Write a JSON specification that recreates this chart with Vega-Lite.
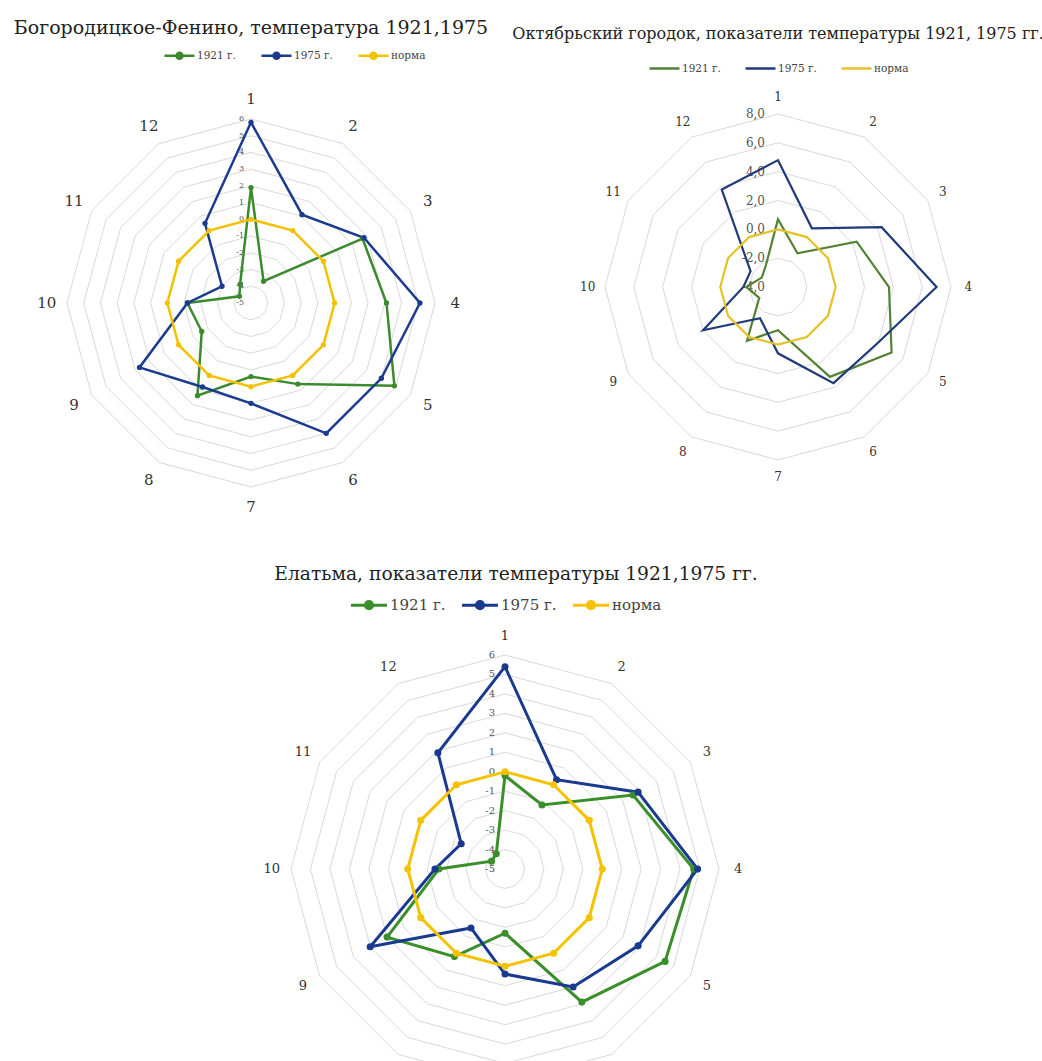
{
  "$schema": "https://vega.github.io/schema/vega-lite/v6.json",
  "padding": {"left": 13, "top": 19, "right": 0, "bottom": 0},
  "background": "white",
  "config": {
    "view": {"stroke": null},
    "text": {"font": "DejaVu Serif"},
    "title": {"font": "DejaVu Serif", "fontWeight": "normal", "color": "#222"},
    "legend": {"labelFont": "DejaVu Serif", "labelColor": "#444", "padding": 0, "labelOffset": 1}
  },
  "datasets": {
    "months": [
      {"month": 1}, {"month": 2}, {"month": 3}, {"month": 4}, {"month": 5}, {"month": 6},
      {"month": 7}, {"month": 8}, {"month": 9}, {"month": 10}, {"month": 11}, {"month": 12}
    ],
    "grid11": [
      {"level": -5, "label": "-5", "months": [1,2,3,4,5,6,7,8,9,10,11,12]},
      {"level": -4, "label": "-4", "months": [1,2,3,4,5,6,7,8,9,10,11,12]},
      {"level": -3, "label": "-3", "months": [1,2,3,4,5,6,7,8,9,10,11,12]},
      {"level": -2, "label": "-2", "months": [1,2,3,4,5,6,7,8,9,10,11,12]},
      {"level": -1, "label": "-1", "months": [1,2,3,4,5,6,7,8,9,10,11,12]},
      {"level": 0, "label": "0", "months": [1,2,3,4,5,6,7,8,9,10,11,12]},
      {"level": 1, "label": "1", "months": [1,2,3,4,5,6,7,8,9,10,11,12]},
      {"level": 2, "label": "2", "months": [1,2,3,4,5,6,7,8,9,10,11,12]},
      {"level": 3, "label": "3", "months": [1,2,3,4,5,6,7,8,9,10,11,12]},
      {"level": 4, "label": "4", "months": [1,2,3,4,5,6,7,8,9,10,11,12]},
      {"level": 5, "label": "5", "months": [1,2,3,4,5,6,7,8,9,10,11,12]},
      {"level": 6, "label": "6", "months": [1,2,3,4,5,6,7,8,9,10,11,12]}
    ],
    "grid2": [
      {"level": -4, "label": "-4,0", "months": [1,2,3,4,5,6,7,8,9,10,11,12]},
      {"level": -2, "label": "-2,0", "months": [1,2,3,4,5,6,7,8,9,10,11,12]},
      {"level": 0, "label": "0,0", "months": [1,2,3,4,5,6,7,8,9,10,11,12]},
      {"level": 2, "label": "2,0", "months": [1,2,3,4,5,6,7,8,9,10,11,12]},
      {"level": 4, "label": "4,0", "months": [1,2,3,4,5,6,7,8,9,10,11,12]},
      {"level": 6, "label": "6,0", "months": [1,2,3,4,5,6,7,8,9,10,11,12]},
      {"level": 8, "label": "8,0", "months": [1,2,3,4,5,6,7,8,9,10,11,12]}
    ],
    "bog": [
      {"series": "1921 г.", "month": 1, "value": 1.9}, {"series": "1921 г.", "month": 2, "value": -3.5},
      {"series": "1921 г.", "month": 3, "value": 2.7}, {"series": "1921 г.", "month": 4, "value": 3.1},
      {"series": "1921 г.", "month": 5, "value": 4.9}, {"series": "1921 г.", "month": 6, "value": 0.6},
      {"series": "1921 г.", "month": 7, "value": -0.6}, {"series": "1921 г.", "month": 8, "value": 1.4},
      {"series": "1921 г.", "month": 9, "value": -1.6}, {"series": "1921 г.", "month": 10, "value": -1.2},
      {"series": "1921 г.", "month": 11, "value": -4.2}, {"series": "1921 г.", "month": 12, "value": -3.7},
      {"series": "1975 г.", "month": 1, "value": 5.8}, {"series": "1975 г.", "month": 2, "value": 1.1},
      {"series": "1975 г.", "month": 3, "value": 2.8}, {"series": "1975 г.", "month": 4, "value": 5.1},
      {"series": "1975 г.", "month": 5, "value": 4.0}, {"series": "1975 г.", "month": 6, "value": 4.0},
      {"series": "1975 г.", "month": 7, "value": 1.0}, {"series": "1975 г.", "month": 8, "value": 0.8},
      {"series": "1975 г.", "month": 9, "value": 2.7}, {"series": "1975 г.", "month": 10, "value": -1.2},
      {"series": "1975 г.", "month": 11, "value": -3.0}, {"series": "1975 г.", "month": 12, "value": 0.5},
      {"series": "норма", "month": 1, "value": 0}, {"series": "норма", "month": 2, "value": 0},
      {"series": "норма", "month": 3, "value": 0}, {"series": "норма", "month": 4, "value": 0},
      {"series": "норма", "month": 5, "value": 0}, {"series": "норма", "month": 6, "value": 0},
      {"series": "норма", "month": 7, "value": 0}, {"series": "норма", "month": 8, "value": 0},
      {"series": "норма", "month": 9, "value": 0}, {"series": "норма", "month": 10, "value": 0},
      {"series": "норма", "month": 11, "value": 0}, {"series": "норма", "month": 12, "value": 0}
    ],
    "okt": [
      {"series": "1921 г.", "month": 1, "value": 0.7}, {"series": "1921 г.", "month": 2, "value": -1.3},
      {"series": "1921 г.", "month": 3, "value": 2.3}, {"series": "1921 г.", "month": 4, "value": 3.7},
      {"series": "1921 г.", "month": 5, "value": 5.1}, {"series": "1921 г.", "month": 6, "value": 3.2},
      {"series": "1921 г.", "month": 7, "value": -1.0}, {"series": "1921 г.", "month": 8, "value": 0.3},
      {"series": "1921 г.", "month": 9, "value": -2.5}, {"series": "1921 г.", "month": 10, "value": -1.8},
      {"series": "1921 г.", "month": 11, "value": -2.7}, {"series": "1921 г.", "month": 12, "value": -2.3},
      {"series": "1975 г.", "month": 1, "value": 4.8}, {"series": "1975 г.", "month": 2, "value": 0.7},
      {"series": "1975 г.", "month": 3, "value": 4.3}, {"series": "1975 г.", "month": 4, "value": 7.0},
      {"series": "1975 г.", "month": 5, "value": 3.9}, {"series": "1975 г.", "month": 6, "value": 3.7},
      {"series": "1975 г.", "month": 7, "value": 0.6}, {"series": "1975 г.", "month": 8, "value": -1.5},
      {"series": "1975 г.", "month": 9, "value": 2.0}, {"series": "1975 г.", "month": 10, "value": -1.6},
      {"series": "1975 г.", "month": 11, "value": -1.8}, {"series": "1975 г.", "month": 12, "value": 3.8},
      {"series": "норма", "month": 1, "value": 0}, {"series": "норма", "month": 2, "value": 0},
      {"series": "норма", "month": 3, "value": 0}, {"series": "норма", "month": 4, "value": 0},
      {"series": "норма", "month": 5, "value": 0}, {"series": "норма", "month": 6, "value": 0},
      {"series": "норма", "month": 7, "value": 0}, {"series": "норма", "month": 8, "value": 0},
      {"series": "норма", "month": 9, "value": 0}, {"series": "норма", "month": 10, "value": 0},
      {"series": "норма", "month": 11, "value": 0}, {"series": "норма", "month": 12, "value": 0}
    ],
    "ela": [
      {"series": "1921 г.", "month": 1, "value": -0.2}, {"series": "1921 г.", "month": 2, "value": -1.2},
      {"series": "1921 г.", "month": 3, "value": 2.6}, {"series": "1921 г.", "month": 4, "value": 4.7},
      {"series": "1921 г.", "month": 5, "value": 4.5}, {"series": "1921 г.", "month": 6, "value": 2.9},
      {"series": "1921 г.", "month": 7, "value": -1.7}, {"series": "1921 г.", "month": 8, "value": 0.2},
      {"series": "1921 г.", "month": 9, "value": 2.0}, {"series": "1921 г.", "month": 10, "value": -1.6},
      {"series": "1921 г.", "month": 11, "value": -4.2}, {"series": "1921 г.", "month": 12, "value": -4.1},
      {"series": "1975 г.", "month": 1, "value": 5.4}, {"series": "1975 г.", "month": 2, "value": 0.3},
      {"series": "1975 г.", "month": 3, "value": 2.9}, {"series": "1975 г.", "month": 4, "value": 4.9},
      {"series": "1975 г.", "month": 5, "value": 2.9}, {"series": "1975 г.", "month": 6, "value": 2.0},
      {"series": "1975 г.", "month": 7, "value": 0.4}, {"series": "1975 г.", "month": 8, "value": -1.5},
      {"series": "1975 г.", "month": 9, "value": 3.0}, {"series": "1975 г.", "month": 10, "value": -1.4},
      {"series": "1975 г.", "month": 11, "value": -2.4}, {"series": "1975 г.", "month": 12, "value": 1.9},
      {"series": "норма", "month": 1, "value": 0}, {"series": "норма", "month": 2, "value": 0},
      {"series": "норма", "month": 3, "value": 0}, {"series": "норма", "month": 4, "value": 0},
      {"series": "норма", "month": 5, "value": 0}, {"series": "норма", "month": 6, "value": 0},
      {"series": "норма", "month": 7, "value": 0}, {"series": "норма", "month": 8, "value": 0},
      {"series": "норма", "month": 9, "value": 0}, {"series": "норма", "month": 10, "value": 0},
      {"series": "норма", "month": 11, "value": 0}, {"series": "норма", "month": 12, "value": 0}
    ]
  },
  "spacing": 44,
  "bounds": "full",
  "resolve": {
    "scale": {"x": "independent", "y": "independent", "stroke": "independent", "fill": "independent"},
    "legend": {"stroke": "independent", "fill": "independent"}
  },
  "vconcat": [
    {
      "hconcat": [
        {
          "width": 460, "height": 440,
          "title": {"text": "Богородицкое-Фенино, температура 1921,1975", "fontSize": 19, "offset": 1},
          "layer": [
            {
              "data": {"name": "grid11"},
              "transform": [
                {"flatten": ["months"], "as": ["month"]},
                {"calculate": "(datum.level + 5) / 11 * sin((datum.month - 1) * PI / 6)", "as": "x"},
                {"calculate": "(datum.level + 5) / 11 * cos((datum.month - 1) * PI / 6)", "as": "y"}
              ],
              "mark": {"type": "line", "interpolate": "linear-closed", "stroke": "#d9d9d9", "strokeWidth": 1},
              "encoding": {
                "x": {"field": "x", "type": "quantitative", "scale": {"domain": [-1.25, 1.25], "nice": false, "zero": false}, "axis": null},
                "y": {"field": "y", "type": "quantitative", "scale": {"domain": [-1.1848, 1.2065], "nice": false, "zero": false}, "axis": null},
                "detail": {"field": "level", "type": "nominal"},
                "order": {"field": "month", "type": "quantitative"}
              }
            },
            {
              "data": {"name": "grid11"},
              "transform": [
                {"calculate": "0", "as": "x"},
                {"calculate": "(datum.level + 5) / 11", "as": "y"}
              ],
              "mark": {"type": "text", "align": "right", "baseline": "middle", "dx": -7, "fontSize": 8, "color": "#555"},
              "encoding": {
                "x": {"field": "x", "type": "quantitative"},
                "y": {"field": "y", "type": "quantitative"},
                "text": {"field": "label", "type": "nominal"}
              }
            },
            {
              "data": {"name": "months"},
              "transform": [
                {"calculate": "1.11 * sin((datum.month - 1) * PI / 6)", "as": "x"},
                {"calculate": "1.11 * cos((datum.month - 1) * PI / 6)", "as": "y"}
              ],
              "mark": {"type": "text", "align": "center", "baseline": "middle", "fontSize": 15, "color": "#333"},
              "encoding": {
                "x": {"field": "x", "type": "quantitative"},
                "y": {"field": "y", "type": "quantitative"},
                "text": {"field": "month", "type": "nominal"}
              }
            },
            {
              "data": {"name": "bog"},
              "transform": [
                {"calculate": "(datum.value + 5) / 11", "as": "r"},
                {"calculate": "datum.r * sin((datum.month - 1) * PI / 6)", "as": "x"},
                {"calculate": "datum.r * cos((datum.month - 1) * PI / 6)", "as": "y"}
              ],
              "mark": {"type": "line", "interpolate": "linear-closed", "strokeWidth": 2.5},
              "encoding": {
                "x": {"field": "x", "type": "quantitative"},
                "y": {"field": "y", "type": "quantitative"},
                "order": {"field": "month", "type": "quantitative"},
                "stroke": {
                  "field": "series", "type": "nominal",
                  "scale": {"domain": ["1921 г.", "1975 г.", "норма"], "range": ["#3c8a2e", "#1b3b8f", "#f2c200"]},
                  "legend": {"title": null, "orient": "none", "legendX": 142, "legendY": -42, "direction": "horizontal",
                    "symbolType": "M-1,0H1M-0.2,0A0.2,0.2,0,1,0,0.2,0A0.2,0.2,0,1,0,-0.2,0Z", "symbolSize": 900, "symbolStrokeWidth": 2.5,
                    "labelFontSize": 10.5, "columnPadding": 20}
                }
              }
            },
            {
              "data": {"name": "bog"},
              "transform": [
                {"calculate": "(datum.value + 5) / 11", "as": "r"},
                {"calculate": "datum.r * sin((datum.month - 1) * PI / 6)", "as": "x"},
                {"calculate": "datum.r * cos((datum.month - 1) * PI / 6)", "as": "y"}
              ],
              "mark": {"type": "point", "filled": true, "opacity": 1, "size": 28},
              "encoding": {
                "x": {"field": "x", "type": "quantitative"},
                "y": {"field": "y", "type": "quantitative"},
                "fill": {
                  "field": "series", "type": "nominal",
                  "scale": {"domain": ["1921 г.", "1975 г.", "норма"], "range": ["#3c8a2e", "#1b3b8f", "#f2c200"]},
                  "legend": {"title": null, "orient": "none", "legendX": 142, "legendY": -42, "direction": "horizontal",
                    "symbolType": "M-1,0H1M-0.2,0A0.2,0.2,0,1,0,0.2,0A0.2,0.2,0,1,0,-0.2,0Z", "symbolSize": 900, "symbolStrokeWidth": 2.5,
                    "labelFontSize": 10.5, "columnPadding": 20}
                }
              }
            }
          ]
        },
        {
          "width": 474, "height": 440,
          "title": {"text": "Октябрьский городок, показатели температуры 1921, 1975 гг.", "fontSize": 16, "offset": 10},
          "layer": [
            {
              "data": {"name": "grid2"},
              "transform": [
                {"flatten": ["months"], "as": ["month"]},
                {"calculate": "(datum.level + 4) / 12 * sin((datum.month - 1) * PI / 6)", "as": "x"},
                {"calculate": "(datum.level + 4) / 12 * cos((datum.month - 1) * PI / 6)", "as": "y"}
              ],
              "mark": {"type": "line", "interpolate": "linear-closed", "stroke": "#d9d9d9", "strokeWidth": 1},
              "encoding": {
                "x": {"field": "x", "type": "quantitative", "scale": {"domain": [-1.37, 1.37], "nice": false, "zero": false}, "axis": null},
                "y": {"field": "y", "type": "quantitative", "scale": {"domain": [-1.3526, 1.1908], "nice": false, "zero": false}, "axis": null},
                "detail": {"field": "level", "type": "nominal"},
                "order": {"field": "month", "type": "quantitative"}
              }
            },
            {
              "data": {"name": "grid2"},
              "transform": [
                {"calculate": "0", "as": "x"},
                {"calculate": "(datum.level + 4) / 12", "as": "y"}
              ],
              "mark": {"type": "text", "align": "right", "baseline": "middle", "dx": -13, "fontSize": 12, "color": "#555"},
              "encoding": {
                "x": {"field": "x", "type": "quantitative"},
                "y": {"field": "y", "type": "quantitative"},
                "text": {"field": "label", "type": "nominal"}
              }
            },
            {
              "data": {"name": "months"},
              "transform": [
                {"calculate": "1.1 * sin((datum.month - 1) * PI / 6)", "as": "x"},
                {"calculate": "1.1 * cos((datum.month - 1) * PI / 6)", "as": "y"}
              ],
              "mark": {"type": "text", "align": "center", "baseline": "middle", "fontSize": 12, "color": "#333"},
              "encoding": {
                "x": {"field": "x", "type": "quantitative"},
                "y": {"field": "y", "type": "quantitative"},
                "text": {"field": "month", "type": "nominal"}
              }
            },
            {
              "data": {"name": "okt"},
              "transform": [
                {"calculate": "(datum.value + 4) / 12", "as": "r"},
                {"calculate": "datum.r * sin((datum.month - 1) * PI / 6)", "as": "x"},
                {"calculate": "datum.r * cos((datum.month - 1) * PI / 6)", "as": "y"}
              ],
              "mark": {"type": "line", "interpolate": "linear-closed", "strokeWidth": 2.2},
              "encoding": {
                "x": {"field": "x", "type": "quantitative"},
                "y": {"field": "y", "type": "quantitative"},
                "order": {"field": "month", "type": "quantitative"},
                "stroke": {
                  "field": "series", "type": "nominal",
                  "scale": {"domain": ["1921 г.", "1975 г.", "норма"], "range": ["#548235", "#203a7a", "#e6c229"]},
                  "legend": {"title": null, "orient": "none", "legendX": 107, "legendY": -29, "direction": "horizontal",
                    "symbolType": "M-1,0H1", "symbolSize": 900, "symbolStrokeWidth": 2.5,
                    "labelFontSize": 10.5, "columnPadding": 19}
                }
              }
            }
          ]
        }
      ],
      "spacing": 60,
      "bounds": "flush",
      "resolve": {
        "scale": {"x": "independent", "y": "independent", "stroke": "independent", "fill": "independent"},
        "legend": {"stroke": "independent", "fill": "independent"}
      }
    },
    {
      "width": 970, "height": 441,
      "title": {"text": "Елатьма, показатели температуры 1921,1975 гг.", "fontSize": 18.7, "offset": 1, "dx": 10},
      "layer": [
        {
          "data": {"name": "grid11"},
          "transform": [
            {"flatten": ["months"], "as": ["month"]},
            {"calculate": "(datum.level + 5) / 11 * sin((datum.month - 1) * PI / 6)", "as": "x"},
            {"calculate": "(datum.level + 5) / 11 * cos((datum.month - 1) * PI / 6)", "as": "y"}
          ],
          "mark": {"type": "line", "interpolate": "linear-closed", "stroke": "#d9d9d9", "strokeWidth": 1},
          "encoding": {
            "x": {"field": "x", "type": "quantitative", "scale": {"domain": [-2.2617, 2.271], "nice": false, "zero": false}, "axis": null},
            "y": {"field": "y", "type": "quantitative", "scale": {"domain": [-0.9019, 1.1589], "nice": false, "zero": false}, "axis": null},
            "detail": {"field": "level", "type": "nominal"},
            "order": {"field": "month", "type": "quantitative"}
          }
        },
        {
          "data": {"name": "grid11"},
          "transform": [
            {"calculate": "0", "as": "x"},
            {"calculate": "(datum.level + 5) / 11", "as": "y"}
          ],
          "mark": {"type": "text", "align": "right", "baseline": "middle", "dx": -10, "fontSize": 10, "color": "#555"},
          "encoding": {
            "x": {"field": "x", "type": "quantitative"},
            "y": {"field": "y", "type": "quantitative"},
            "text": {"field": "label", "type": "nominal"}
          }
        },
        {
          "data": {"name": "months"},
          "transform": [
            {"calculate": "1.09 * sin((datum.month - 1) * PI / 6)", "as": "x"},
            {"calculate": "1.09 * cos((datum.month - 1) * PI / 6)", "as": "y"}
          ],
          "mark": {"type": "text", "align": "center", "baseline": "middle", "fontSize": 13, "color": "#333"},
          "encoding": {
            "x": {"field": "x", "type": "quantitative"},
            "y": {"field": "y", "type": "quantitative"},
            "text": {"field": "month", "type": "nominal"}
          }
        },
        {
          "data": {"name": "ela"},
          "transform": [
            {"calculate": "(datum.value + 5) / 11", "as": "r"},
            {"calculate": "datum.r * sin((datum.month - 1) * PI / 6)", "as": "x"},
            {"calculate": "datum.r * cos((datum.month - 1) * PI / 6)", "as": "y"}
          ],
          "mark": {"type": "line", "interpolate": "linear-closed", "strokeWidth": 3},
          "encoding": {
            "x": {"field": "x", "type": "quantitative"},
            "y": {"field": "y", "type": "quantitative"},
            "order": {"field": "month", "type": "quantitative"},
            "stroke": {
              "field": "series", "type": "nominal",
              "scale": {"domain": ["1921 г.", "1975 г.", "норма"], "range": ["#3a8f2a", "#1a3a90", "#f5c200"]},
              "legend": {"title": null, "orient": "none", "legendX": 328, "legendY": -36, "direction": "horizontal",
                "symbolType": "M-1,0H1M-0.2,0A0.2,0.2,0,1,0,0.2,0A0.2,0.2,0,1,0,-0.2,0Z", "symbolSize": 1300, "symbolStrokeWidth": 3,
                "labelFontSize": 15, "columnPadding": 9}
            }
          }
        },
        {
          "data": {"name": "ela"},
          "transform": [
            {"calculate": "(datum.value + 5) / 11", "as": "r"},
            {"calculate": "datum.r * sin((datum.month - 1) * PI / 6)", "as": "x"},
            {"calculate": "datum.r * cos((datum.month - 1) * PI / 6)", "as": "y"}
          ],
          "mark": {"type": "point", "filled": true, "opacity": 1, "size": 50},
          "encoding": {
            "x": {"field": "x", "type": "quantitative"},
            "y": {"field": "y", "type": "quantitative"},
            "fill": {
              "field": "series", "type": "nominal",
              "scale": {"domain": ["1921 г.", "1975 г.", "норма"], "range": ["#3a8f2a", "#1a3a90", "#f5c200"]},
              "legend": {"title": null, "orient": "none", "legendX": 328, "legendY": -36, "direction": "horizontal",
                "symbolType": "M-1,0H1M-0.2,0A0.2,0.2,0,1,0,0.2,0A0.2,0.2,0,1,0,-0.2,0Z", "symbolSize": 1300, "symbolStrokeWidth": 3,
                "labelFontSize": 15, "columnPadding": 9}
            }
          }
        }
      ]
    }
  ]
}
